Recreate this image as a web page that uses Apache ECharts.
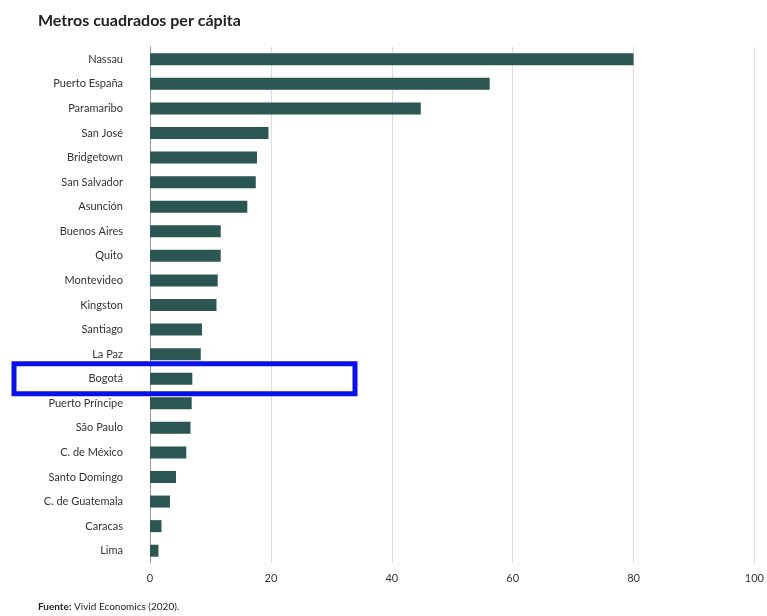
<!DOCTYPE html>
<html><head><meta charset="utf-8">
<script src="https://cdn.jsdelivr.net/npm/echarts@6/dist/echarts.min.js"></script>
<style>html,body{margin:0;padding:0;background:#fff;}#c{width:767px;height:616px;}</style>
</head><body><div id="c"></div>
<script>
const cities = ["Nassau","Puerto España","Paramaribo","San José","Bridgetown","San Salvador","Asunción","Buenos Aires","Quito","Montevideo","Kingston","Santiago","La Paz","Bogotá","Puerto Príncipe","São Paulo","C. de México","Santo Domingo","C. de Guatemala","Caracas","Lima"];
const values = [80.0,56.2,44.8,19.6,17.7,17.5,16.1,11.7,11.7,11.2,11.0,8.6,8.4,7.0,6.9,6.7,6.0,4.3,3.3,1.9,1.4];
const xTicks = [0,20,40,60,80,100];
const highlightCity = "Bogotá";
const titleText = "Metros cuadrados per cápita";
const sourceLabel = "Fuente:";
const sourceText = " Vivid Economics (2020).";

const chart = echarts.init(document.getElementById('c'));
const font = "Lato, 'Open Sans', sans-serif";
chart.setOption({
  animation:false,
  title:{text:titleText,left:38,top:13,padding:0,textStyle:{fontFamily:font,fontSize:16,fontWeight:'bold',color:'#222'}},
  grid:{left:150,right:10,top:47,bottom:53,containLabel:false},
  xAxis:{type:'value',min:xTicks[0],max:xTicks[xTicks.length-1],interval:20,
    axisLine:{show:false},axisTick:{show:false},
    splitLine:{lineStyle:{color:'#dddddd',width:1}},
    axisLabel:{fontFamily:font,fontSize:11,color:'#333',margin:10}},
  yAxis:{type:'category',data:cities,inverse:true,
    axisLine:{show:true,lineStyle:{color:'#999',width:1}},axisTick:{show:false},
    axisLabel:{fontFamily:font,fontSize:11,color:'#333',margin:27}},
  series:[{type:'bar',data:values,barWidth:12,itemStyle:{color:'#2c5651'}}],
  graphic:[{type:'text',left:38,top:602,style:{rich:{b:{fontWeight:'bold',fontFamily:font,fontSize:10,fill:'#222'},n:{fontFamily:font,fontSize:10,fill:'#222'}},text:'{b|'+sourceLabel+'}{n|'+sourceText+'}'}}]
});
const yc = chart.convertToPixel({yAxisIndex:0}, highlightCity);
chart.setOption({graphic:[{},{type:'rect',shape:{x:14,y:yc-15,width:341,height:30},style:{fill:'none',stroke:'#0a10e8',lineWidth:5},z:100}]});
</script></body></html>
